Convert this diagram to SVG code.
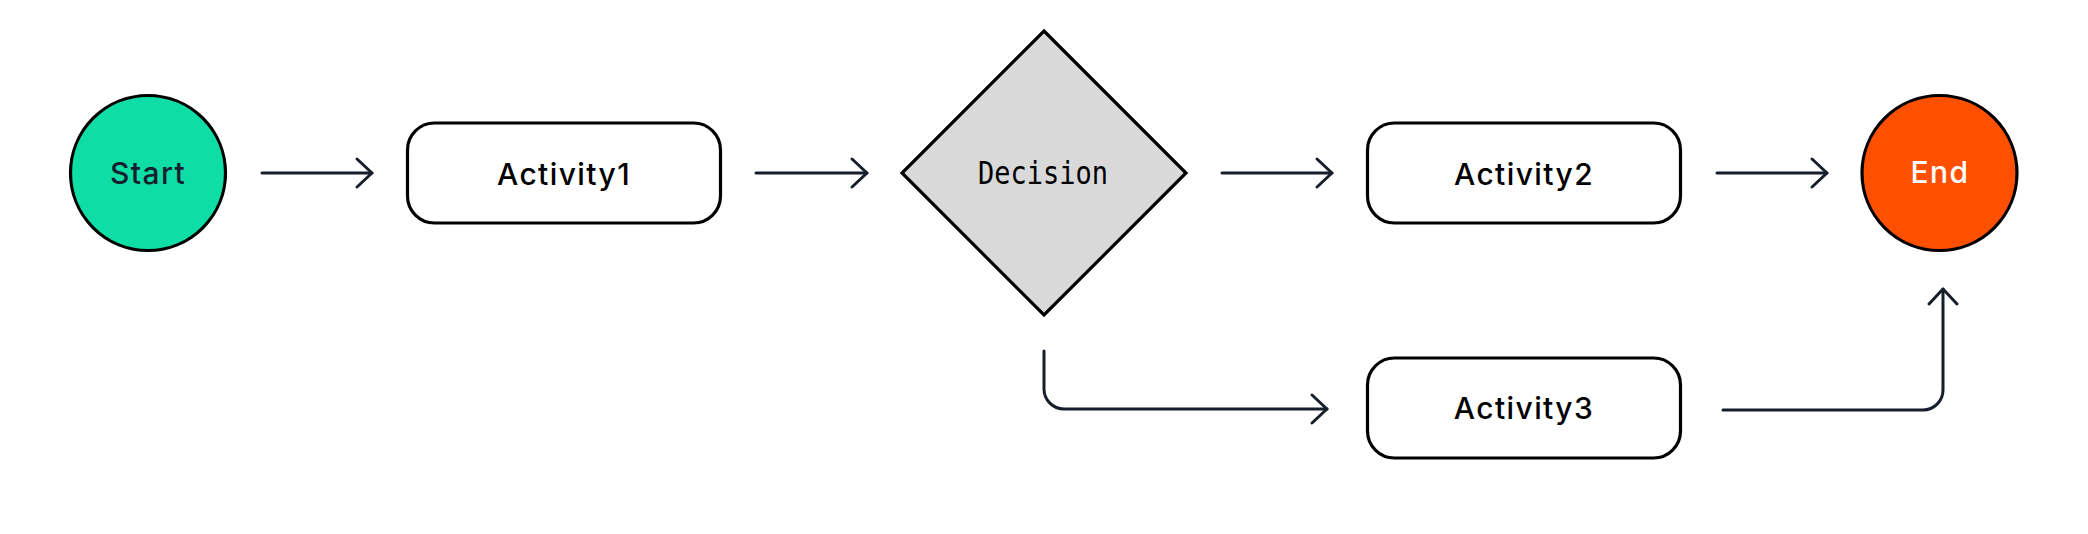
<svg xmlns="http://www.w3.org/2000/svg" width="2088" height="534" viewBox="0 0 2088 534">
  <style>
    .node { stroke: #000000; stroke-width: 3.2; }
    .box { fill: #ffffff; }
    .lbl { font-family: "Inter", "Liberation Sans", sans-serif; font-size: 30px; font-weight: 500; letter-spacing: 1.4px; text-anchor: middle; fill: #000000; }
    .mono { font-family: "DejaVu Sans Mono", "Liberation Mono", monospace; font-size: 27px; text-anchor: middle; fill: #000000; }
    .edge { fill: none; stroke: #161e2b; stroke-width: 3; stroke-linecap: round; stroke-linejoin: round; }
  </style>
  <defs>
    <marker id="chev" markerUnits="userSpaceOnUse" viewBox="-18 -17 21 34" markerWidth="21" markerHeight="34" refX="0" refY="0" orient="auto">
      <path d="M-15,-14 L0,0 L-15,14" fill="none" stroke="#161e2b" stroke-width="3" stroke-linecap="round" stroke-linejoin="round"/>
    </marker>
  </defs>
  <rect width="2088" height="534" fill="#ffffff"/>
  <g id="connectors">
    <path class="edge" d="M262 173 H372" marker-end="url(#chev)"/>
    <path class="edge" d="M756 173 H867" marker-end="url(#chev)"/>
    <path class="edge" d="M1222 173 H1332" marker-end="url(#chev)"/>
    <path class="edge" d="M1717 173 H1827" marker-end="url(#chev)"/>
    <path class="edge" d="M1044 351 V389 A20 20 0 0 0 1064 409 H1327" marker-end="url(#chev)"/>
    <path class="edge" d="M1723 410 H1923 A20 20 0 0 0 1943 390 V289" marker-end="url(#chev)"/>
  </g>
  <g id="start">
    <circle class="node" cx="148" cy="173" r="77.5" fill="#0edea6"/>
    <text class="lbl" x="148" y="184" style="fill:#17202e">Start</text>
  </g>
  <g id="activity1">
    <rect class="node box" x="407.5" y="123" width="313" height="100" rx="27"/>
    <text class="lbl" x="564" y="185">Activity1</text>
  </g>
  <g id="decision">
    <polygon class="node" points="1044,31 1186,173 1044,315 902,173" fill="#d9d9d9"/>
    <text class="mono" x="1043" y="184" transform="translate(0 -27.6) scale(1 1.15)">Decision</text>
  </g>
  <g id="activity2">
    <rect class="node box" x="1367.5" y="123" width="313" height="100" rx="27"/>
    <text class="lbl" x="1524" y="185">Activity2</text>
  </g>
  <g id="activity3">
    <rect class="node box" x="1367.5" y="358" width="313" height="100" rx="27"/>
    <text class="lbl" x="1524" y="419">Activity3</text>
  </g>
  <g id="end">
    <circle class="node" cx="1939.5" cy="173" r="77.5" fill="#ff5000"/>
    <text class="lbl" x="1940" y="183" style="fill:#ffffff">End</text>
  </g>
</svg>
